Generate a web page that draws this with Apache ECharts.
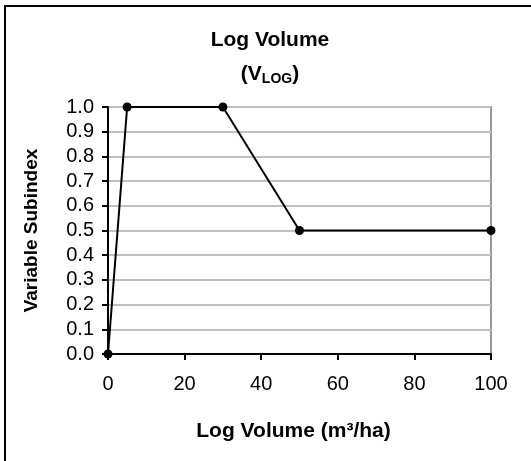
<!DOCTYPE html>
<html>
<head>
<meta charset="utf-8">
<script src="https://cdn.jsdelivr.net/npm/echarts@6/dist/echarts.min.js"></script>
<style>
html,body{margin:0;padding:0;background:#fff;}
#frame{position:absolute;left:4px;top:5px;width:540px;height:470px;border-top:2px solid #000;border-left:2px solid #000;}
#chart{position:absolute;left:0;top:0;width:531px;height:461px;}
</style>
</head>
<body>
<div id="frame"></div>
<div id="chart"></div>
<script>
const xValues = [0, 5, 30, 50, 100];
const yValues = [0, 1, 1, 0.5, 0.5];
const xTicks = [0, 20, 40, 60, 80, 100];
const yTicks = [0, 0.1, 0.2, 0.3, 0.4, 0.5, 0.6, 0.7, 0.8, 0.9, 1.0];

const chart = echarts.init(document.getElementById('chart'));
const font = 'Liberation Sans, Arial, sans-serif';
chart.setOption({
  animation: false,
  title: {
    text: '{b|Log Volume}\n{b|(V}{s|LOG}{b|)}',
    left: 265, top: 18, textAlign: 'center',
    textStyle: {
      rich: {
        b: {fontFamily: font, fontWeight: 'bold', fontSize: 21, color: '#000', lineHeight: 34},
        s: {fontFamily: font, fontWeight: 'bold', fontSize: 14, color: '#000', padding: [10, 0, 0, 0], lineHeight: 34}
      }
    }
  },
  grid: {left: 108, right: 40, top: 107, bottom: 107, show: true, borderColor: '#999', borderWidth: 2, backgroundColor: 'transparent'},
  xAxis: {
    type: 'value', min: 0, max: 100, interval: 20,
    name: 'Log Volume (m³/ha)', nameLocation: 'middle', nameGap: 67,
    nameTextStyle: {fontFamily: font, fontWeight: 'bold', fontSize: 21, color: '#000', padding: [0, 12, 0, 0]},
    axisLine: {lineStyle: {color: '#000', width: 2}},
    axisTick: {show: true, length: 6, lineStyle: {color: '#000', width: 2}},
    axisLabel: {fontFamily: font, fontSize: 20, color: '#000', margin: 20,
      formatter: v => xTicks.includes(v) ? String(v) : ''},
    splitLine: {show: false}
  },
  yAxis: {
    type: 'value', min: 0, max: 1, interval: 0.1,
    name: 'Variable Subindex', nameLocation: 'middle', nameGap: 67, nameRotate: 90,
    nameTextStyle: {fontFamily: font, fontWeight: 'bold', fontSize: 19, color: '#000'},
    axisLine: {show: true, lineStyle: {color: '#000', width: 2}},
    axisTick: {show: true, length: 6, lineStyle: {color: '#000', width: 2}},
    axisLabel: {fontFamily: font, fontSize: 20, color: '#000', margin: 14,
      formatter: v => {
        const t = yTicks.find(k => Math.abs(k - v) < 1e-6);
        return t === undefined ? '' : t.toFixed(1);
      }},
    splitLine: {show: true, lineStyle: {color: '#c0c0c0', width: 2}}
  },
  series: [{
    type: 'line',
    data: xValues.map((x, i) => [x, yValues[i]]),
    symbol: 'circle', symbolSize: 9,
    itemStyle: {color: '#000'},
    lineStyle: {color: '#000', width: 2},
    clip: false
  }]
});
</script>
</body>
</html>
